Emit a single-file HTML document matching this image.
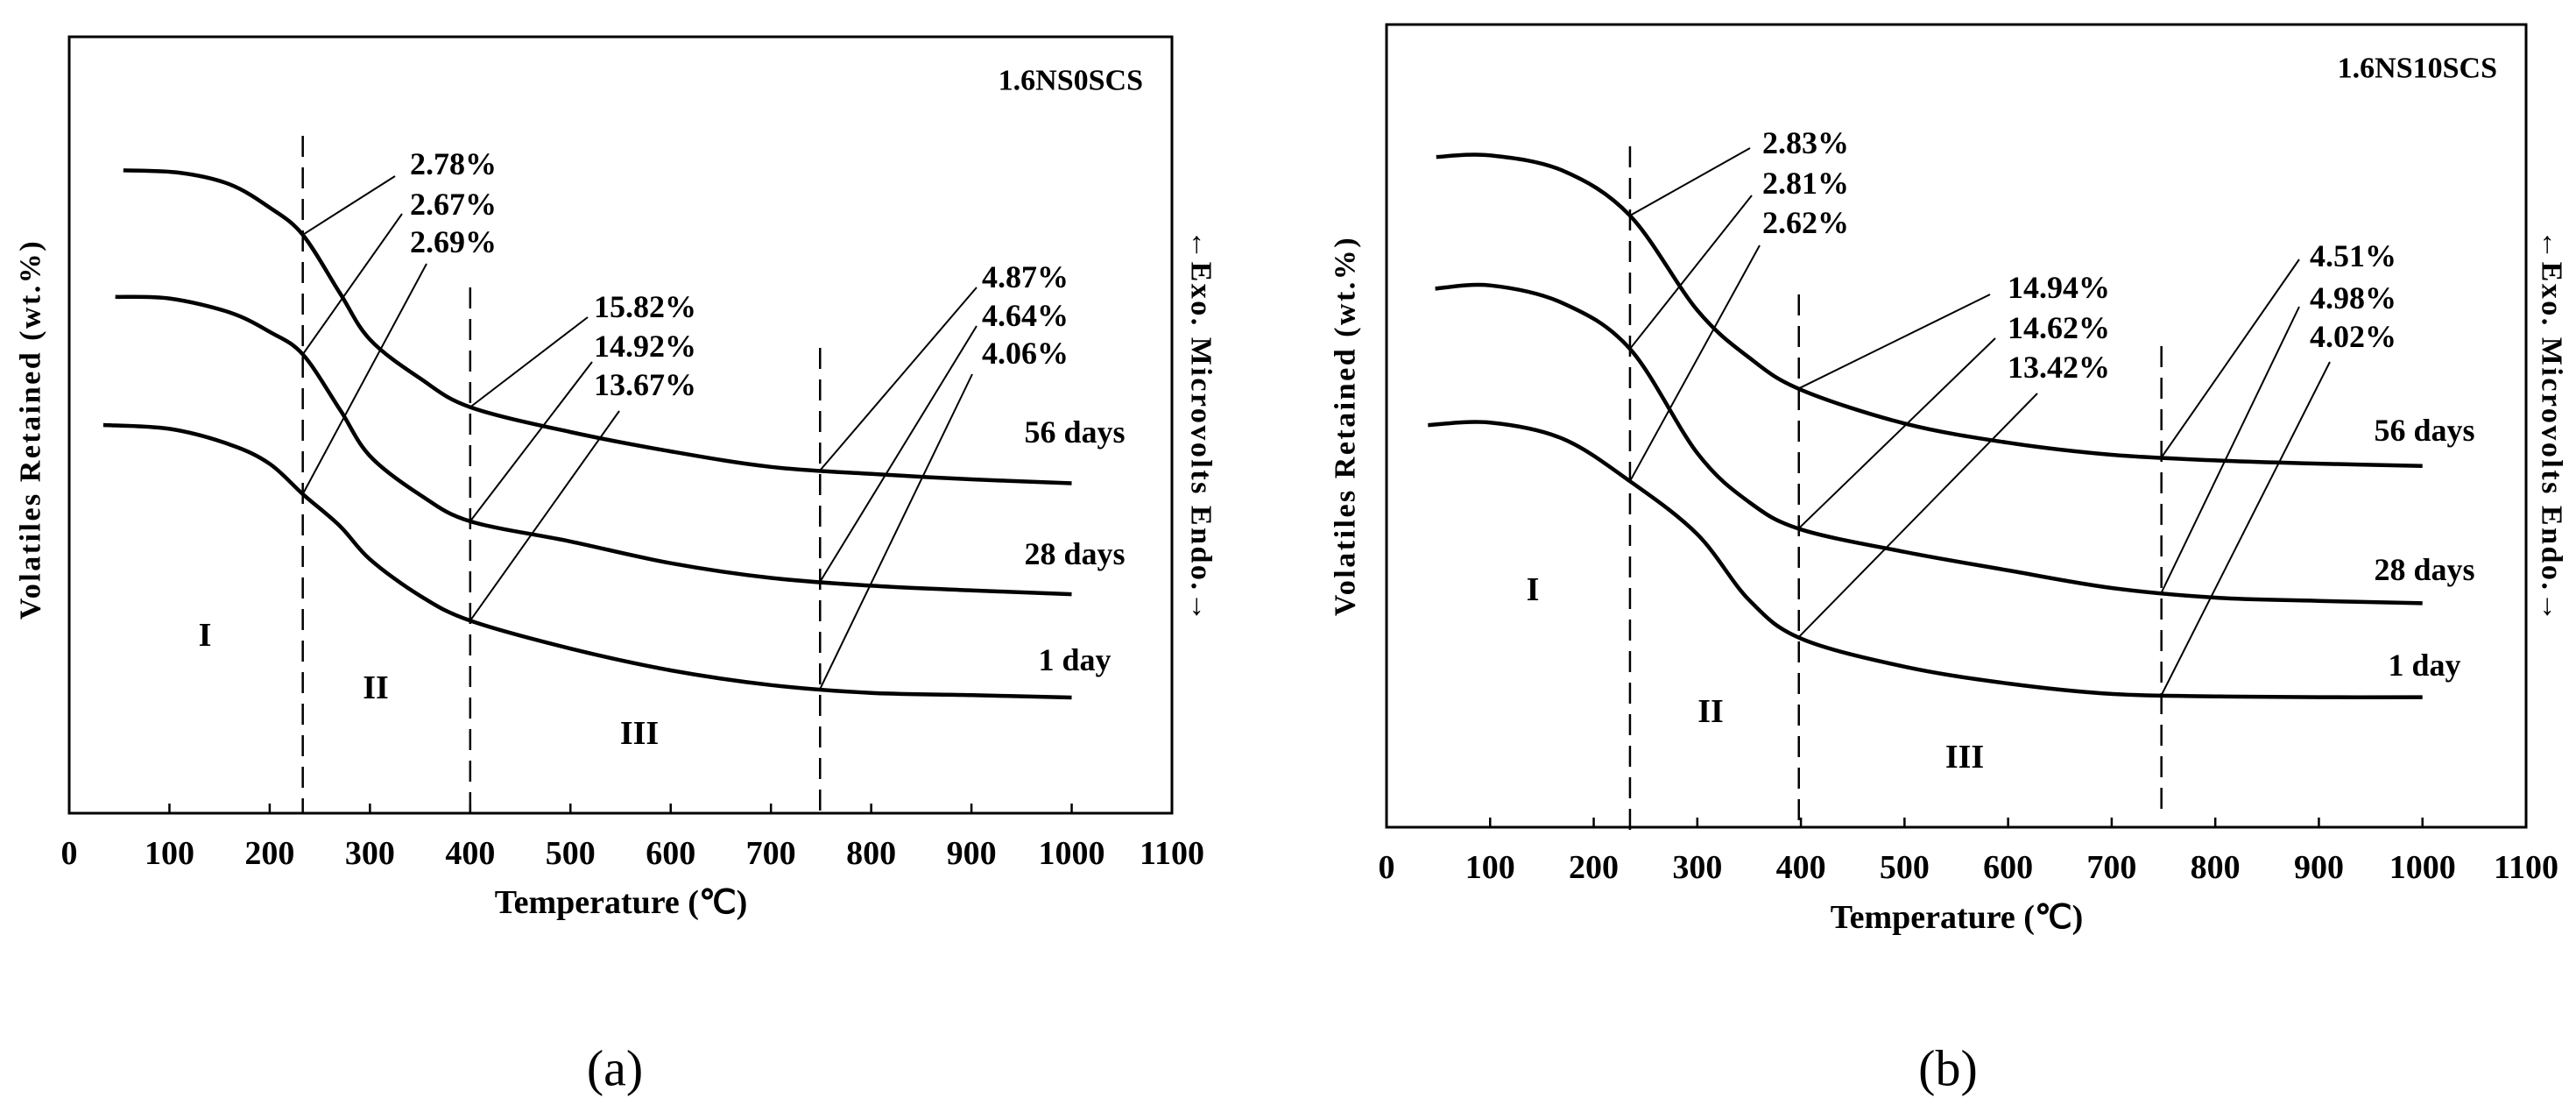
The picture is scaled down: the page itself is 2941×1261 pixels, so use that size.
<!DOCTYPE html>
<html><head><meta charset="utf-8"><style>
html,body{margin:0;padding:0;background:#fff;}
svg{display:block;}
text{font-family:"Liberation Serif",serif;font-weight:bold;fill:#000;}
text.cap{font-weight:normal;}
</style></head><body>
<svg id="fig" width="2941" height="1261" viewBox="0 0 2941 1261" xmlns="http://www.w3.org/2000/svg"></svg>
<script>
// ---- data: chart (a) 1.6NS0SCS ----
const aT56 = [54,110,160,200,233,270,300,350,400,500,600,700,800,900,1000];
const aV56 = [82.8,82.5,81,78,74.5,67,61,56,52.3,49.1,46.6,44.6,43.7,43.0,42.5];
const aT28 = [46,100,160,200,233,270,300,350,400,500,600,700,800,900,1000];
const aV28 = [66.5,66.3,64.5,62,59.1,52,46,41,37.6,35.0,32.2,30.3,29.3,28.7,28.2];
const aT1 = [34,100,160,200,233,270,300,350,400,500,600,700,800,900,1000];
const aV1 = [50,49.5,47.5,45,41.1,37,32.7,28,24.8,21.2,18.4,16.5,15.5,15.2,14.9];
const aDash = [233,400,749];
const aPctA = ["2.78%","2.67%","2.69%"];
const aPctB = ["15.82%","14.92%","13.67%"];
const aPctC = ["4.87%","4.64%","4.06%"];
// ---- data: chart (b) 1.6NS10SCS ----
const bT56 = [48,100,170,235,300,350,400,500,600,700,800,900,1000];
const bV56 = [83.5,83.7,81.8,76.2,64.4,58.5,54.5,50.3,47.9,46.4,45.7,45.3,45.0];
const bT28 = [47,100,170,235,300,350,400,500,600,700,800,900,1000];
const bV28 = [67.1,67.5,65.3,59.6,46.6,40.5,37.1,34.3,32.0,29.8,28.6,28.2,27.9];
const bT1 = [40,100,170,235,300,350,400,500,600,700,800,900,1000];
const bV1 = [50.1,50.4,48.4,43.1,36.5,28.3,23.5,20.0,17.9,16.6,16.3,16.2,16.2];
const bDash = [235,398,748];
const bPctA = ["2.83%","2.81%","2.62%"];
const bPctB = ["14.94%","14.62%","13.42%"];
const bPctC = ["4.51%","4.98%","4.02%"];
const xTicks = [0,100,200,300,400,500,600,700,800,900,1000,1100];
const seriesNames = ["56 days","28 days","1 day"];

const NS="http://www.w3.org/2000/svg";
const svg=document.getElementById('fig');
function mk(tag,attrs,parent){const e=document.createElementNS(NS,tag);for(const k in attrs)e.setAttribute(k,attrs[k]);(parent||svg).appendChild(e);return e;}
function interp(ts,vs,t){for(let i=0;i<ts.length-1;i++){if(t>=ts[i]&&t<=ts[i+1]){const f=(t-ts[i])/(ts[i+1]-ts[i]);return vs[i]+f*(vs[i+1]-vs[i]);}}return t<ts[0]?vs[0]:vs[vs.length-1];}
function pathFrom(pts){let d="M"+pts[0][0]+","+pts[0][1];for(let i=0;i<pts.length-1;i++){const p0=pts[i-1]||pts[i],p1=pts[i],p2=pts[i+1],p3=pts[i+2]||p2;const c1=[p1[0]+(p2[0]-p0[0])/6,p1[1]+(p2[1]-p0[1])/6];const c2=[p2[0]-(p3[0]-p1[0])/6,p2[1]-(p3[1]-p1[1])/6];d+=" C"+c1[0].toFixed(1)+","+c1[1].toFixed(1)+" "+c2[0].toFixed(1)+","+c2[1].toFixed(1)+" "+p2[0].toFixed(1)+","+p2[1].toFixed(1);}return d;}

function drawChart(c){
  const g=mk('g',{});
  
  
  const X=t=>c.x0+t*(c.x1-c.x0)/1100;
  const Y=v=>c.yb-v/100*(c.yb-c.yt);
  const frame=mk('rect',{x:c.x0,y:c.yt,width:c.x1-c.x0,height:c.yb-c.yt,fill:'none',stroke:'#000','stroke-width':3},g);
  
  
  xTicks.forEach(t=>{
    const tk=mk('line',{x1:X(t),x2:X(t),y1:c.yb,y2:c.yb-11,stroke:'#000','stroke-width':2.5},g);
    
    
    const tl=mk('text',{x:X(t),y:c.yb+46,'text-anchor':'middle','dominant-baseline':'central','font-size':38},g);
    tl.textContent=t;
    
    
  });
  const xt=mk('text',{x:c.xtx,y:c.xty,'text-anchor':'middle','dominant-baseline':'central','font-size':38},g);
  xt.textContent='Temperature (℃)';
  
  
  const yt=mk('text',{x:0,y:0,'text-anchor':'middle','dominant-baseline':'central','font-size':34,'letter-spacing':2.5,transform:'translate('+c.ytx+','+c.yty+') rotate(-90)'},g);
  yt.textContent='Volatiles Retained (wt.%)';
  
  
  const rt=mk('text',{x:0,y:0,'text-anchor':'middle','dominant-baseline':'central','font-size':34,'letter-spacing':2.5,transform:'translate('+c.rtx+','+c.rty+') rotate(90)'},g);
  rt.textContent='←Exo. Microvolts Endo.→';
  
  
  const st=mk('text',{x:c.x1-33,y:c.yt+50,'text-anchor':'end','dominant-baseline':'central','font-size':34},g);
  st.textContent=c.sample;
  
  
  const cap=mk('text',{x:c.capx,y:1219,'text-anchor':'middle','dominant-baseline':'central','font-size':58,'class':'cap'},g);
  cap.textContent=c.caption;
  
  
  c.dash.forEach((t,i)=>{
    const dl=mk('line',{x1:X(t),x2:X(t),y1:c.dashTop[i],y2:c.dashBot[i],stroke:'#000','stroke-width':2.5,'stroke-dasharray':'24,12'},g);
    
    
  });
  c.series.forEach((s,i)=>{
    const pts=s.t.map((t,j)=>[X(t),Y(s.v[j])]);
    const p=mk('path',{d:pathFrom(pts),fill:'none',stroke:'#000','stroke-width':4.5},g);
    
    
    const lb=mk('text',{x:c.dayX,y:c.dayY[i],'text-anchor':'middle','dominant-baseline':'central','font-size':36},g);
    lb.textContent=seriesNames[i];
    
    
  });
  c.annot.forEach((a,k)=>{
    const t=c.dash[k];
    a.labels.forEach((txt,i)=>{
      const s=c.series[i];
      const ln=mk('line',{x1:X(t),y1:Y(interp(s.t,s.v,t)),x2:a.ends[i][0],y2:a.ends[i][1],stroke:'#000','stroke-width':2},g);
      
      
      const tx=mk('text',{x:a.tx,y:a.ty[i],'dominant-baseline':'central','font-size':36},g);
      tx.textContent=txt;
      
      
    });
  });
  c.regions.forEach(r=>{
    const rl=mk('text',{x:r[1],y:r[2],'text-anchor':'middle','dominant-baseline':'central','font-size':38},g);
    rl.textContent=r[0];
    
    
  });
}

drawChart({id:'a',sample:'1.6NS0SCS',caption:'(a)',capx:702,x0:79,x1:1338,yt:42,yb:928,
  xtx:709,xty:1030,ytx:35,yty:490,rtx:1371,rty:487,
  dash:aDash,dashTop:[155,328,397],dashBot:[928,928,928],
  series:[{t:aT56,v:aV56},{t:aT28,v:aV28},{t:aT1,v:aV1}],
  dayX:1227,dayY:[493,632,753],
  annot:[{labels:aPctA,tx:468,ty:[187,233,276],ends:[[451,201],[459,244],[487,301]]},
         {labels:aPctB,tx:678,ty:[350,395,439],ends:[[671,362],[676,413],[707,469]]},
         {labels:aPctC,tx:1121,ty:[316,360,403],ends:[[1115,328],[1115,372],[1110,427]]}],
  regions:[['I',234,725],['II',429,785],['III',730,837]]});
drawChart({id:'b',sample:'1.6NS10SCS',caption:'(b)',capx:2224,x0:1583,x1:2884,yt:28,yb:944,
  xtx:2234,xty:1047,ytx:1536,yty:486,rtx:2913,rty:487,
  dash:bDash,dashTop:[167,336,395],dashBot:[952,944,935],
  series:[{t:bT56,v:bV56},{t:bT28,v:bV28},{t:bT1,v:bV1}],
  dayX:2768,dayY:[491,650,759],
  annot:[{labels:bPctA,tx:2012,ty:[163,209,254],ends:[[1998,169],[2000,223],[2009,280]]},
         {labels:bPctB,tx:2292,ty:[328,374,419],ends:[[2272,336],[2278,386],[2326,449]]},
         {labels:bPctC,tx:2637,ty:[292,340,384],ends:[[2625,296],[2625,350],[2660,413]]}],
  regions:[['I',1750,673],['II',1953,812],['III',2243,864]]});
</script>
</body></html>
